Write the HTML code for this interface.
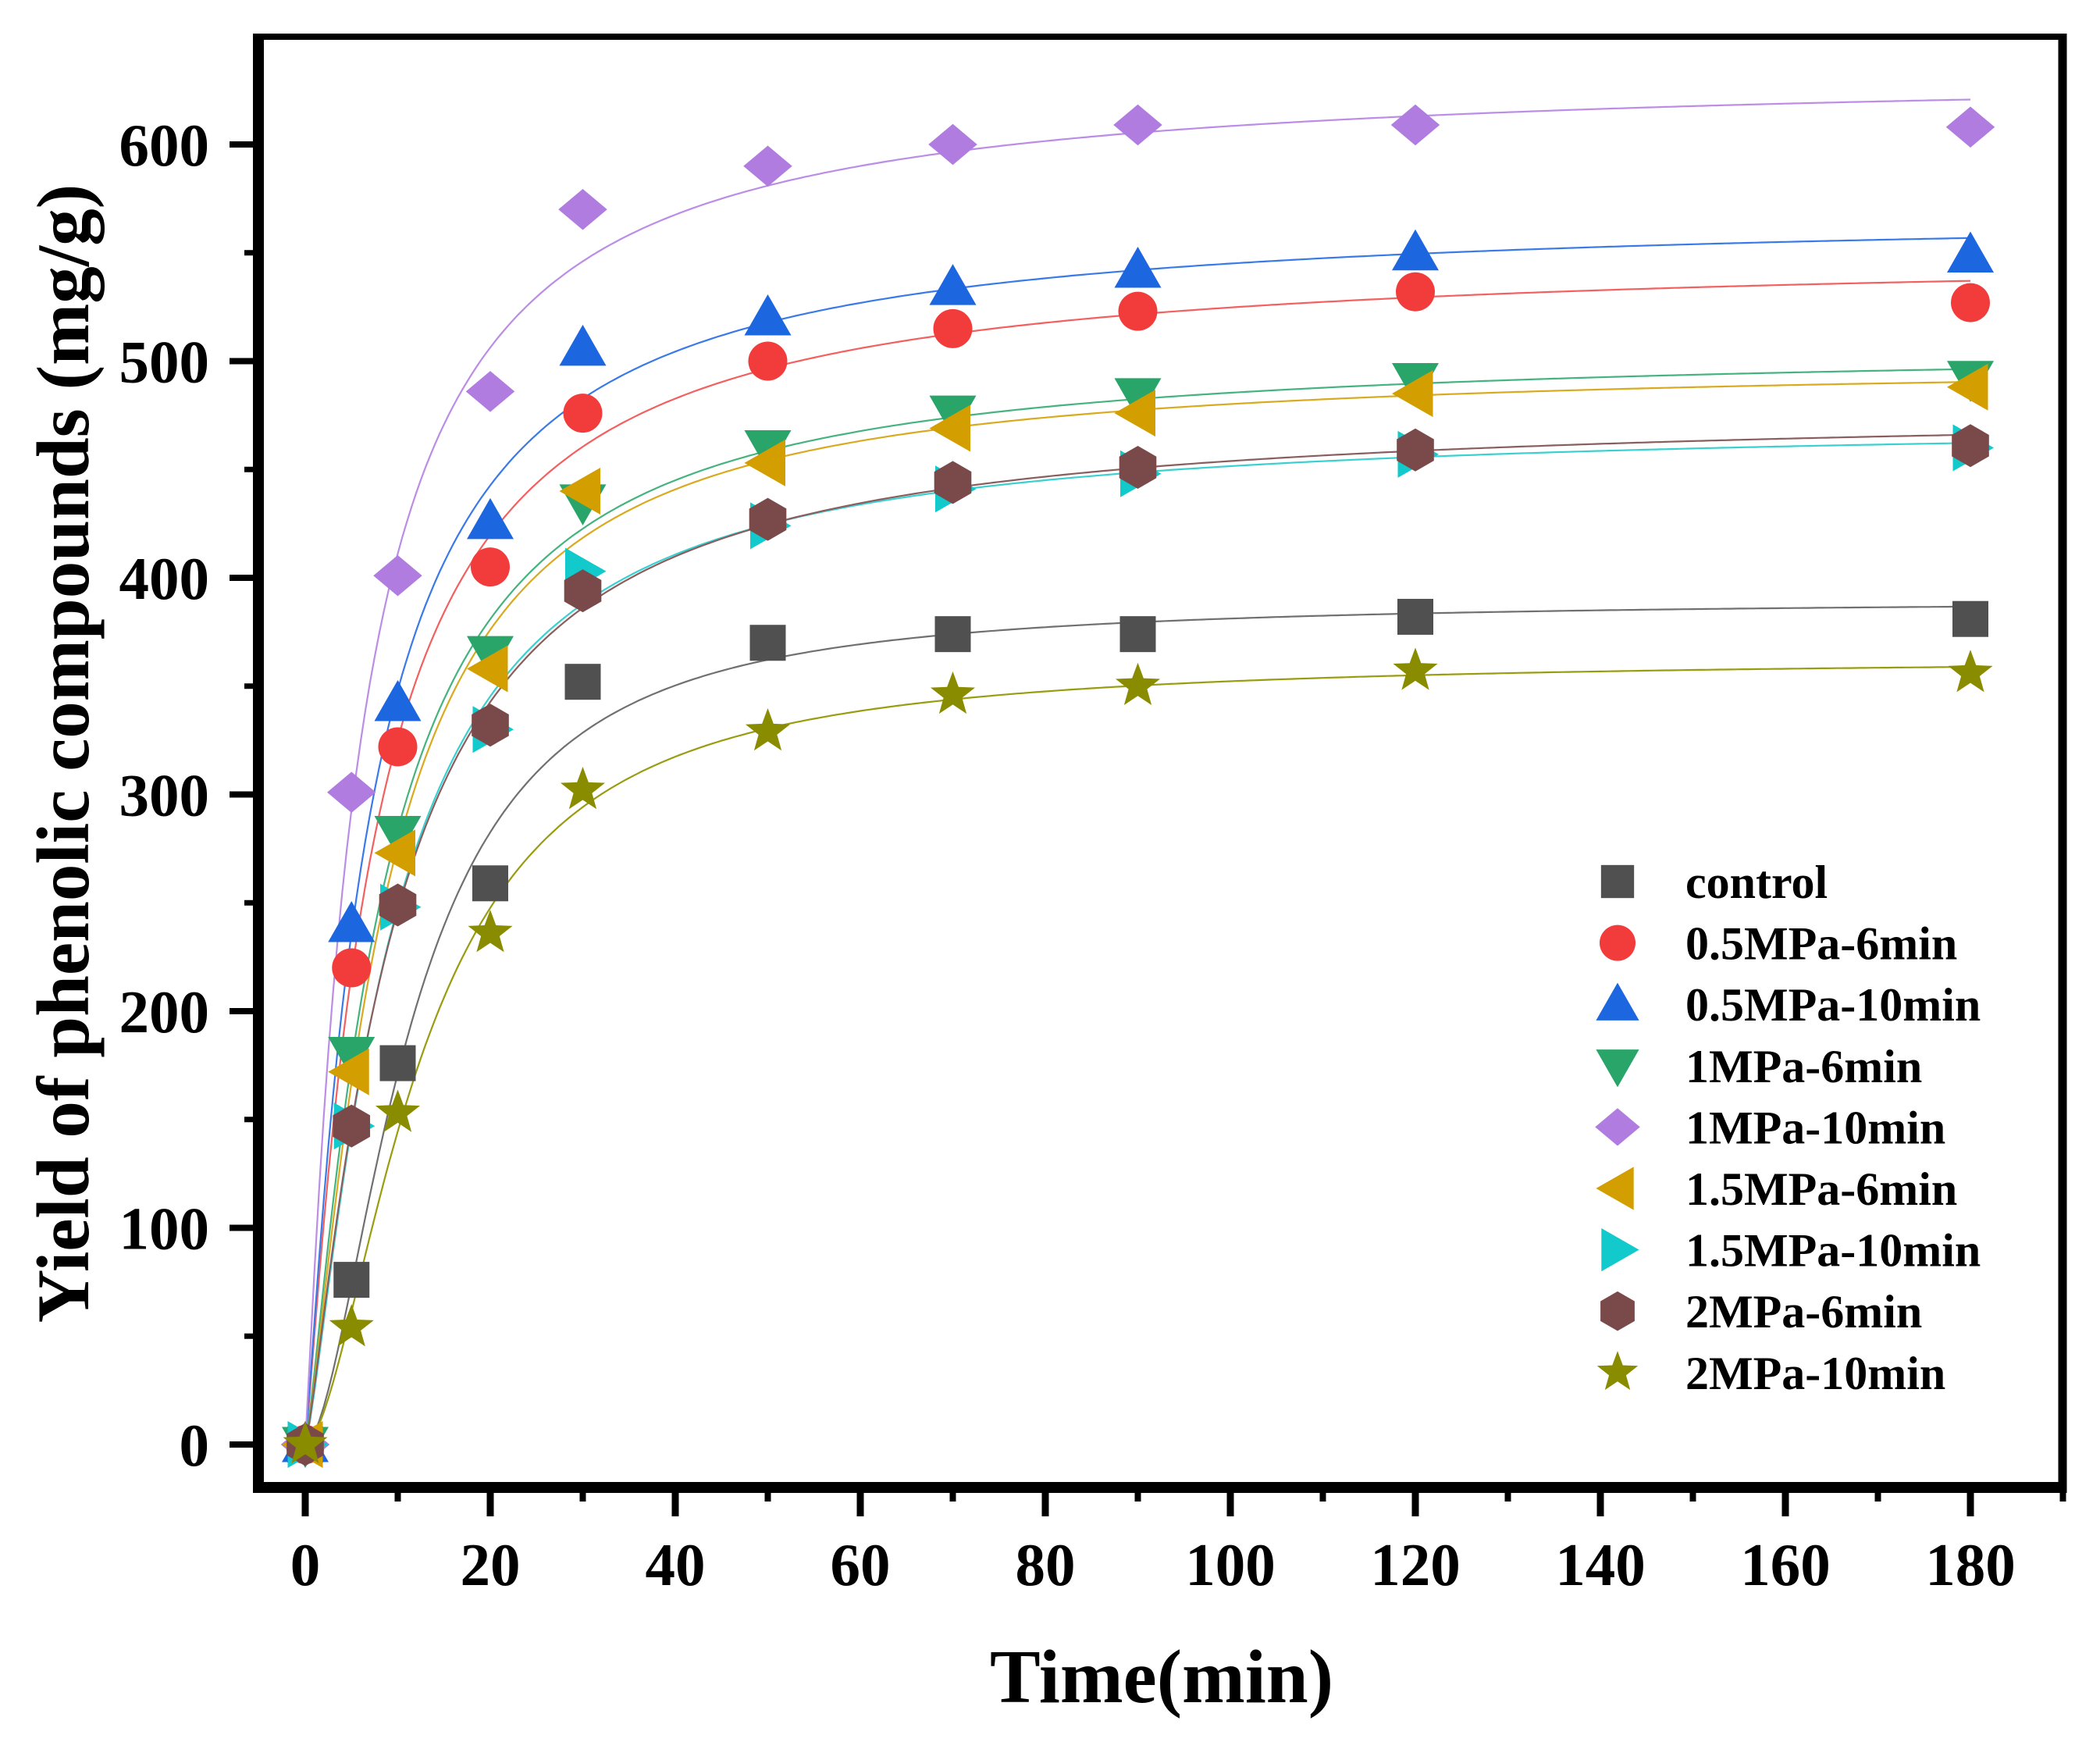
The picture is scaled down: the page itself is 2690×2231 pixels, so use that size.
<!DOCTYPE html>
<html><head><meta charset="utf-8"><style>
html,body{margin:0;padding:0;background:#fff;}
svg{display:block;}
text{font-family:"Liberation Serif",serif;font-weight:bold;fill:#000;}
</style></head><body>
<svg id="chart" width="2690" height="2231" viewBox="0 0 2690 2231" xmlns="http://www.w3.org/2000/svg">
<g id="frame">
<line x1="332" y1="47" x2="2642" y2="47" stroke="#000" stroke-width="8"/>
<line x1="2642" y1="43" x2="2642" y2="1912" stroke="#000" stroke-width="11"/>
<line x1="331" y1="43" x2="331" y2="1912" stroke="#000" stroke-width="14"/>
<line x1="324" y1="1905" x2="2647" y2="1905" stroke="#000" stroke-width="14"/>
</g>
<g id="axes"></g>
<g id="curves"></g>
<g id="marks"></g>
<g id="legend"></g>
<text x="1488" y="2180" font-size="97" text-anchor="middle">Time(min)</text>
<text x="0" y="0" font-size="95" text-anchor="middle" transform="translate(113,965) rotate(-90)">Yield of phenolic compounds (mg/g)</text>
</svg>
<script>
const times = [0, 5, 10, 20, 30, 50, 70, 90, 120, 180];
const seriesNames = ["control","0.5MPa-6min","0.5MPa-10min","1MPa-6min","1MPa-10min","1.5MPa-6min","1.5MPa-10min","2MPa-6min","2MPa-10min"];
const control   = [0, 76, 176, 259, 352, 370, 374, 374, 382, 381];
const p05m6     = [0, 220, 322, 405, 476, 500, 515, 523, 532, 527];
const p05m10    = [0, 240, 342, 426, 506, 520, 534, 542, 550, 549];
const p1m6      = [0, 180, 282, 365, 435, 460, 476, 484, 491, 492];
const p1m10     = [0, 301, 401, 486, 570, 590, 600, 609, 609, 608];
const p15m6     = [0, 172, 273, 358, 440, 453, 469, 476, 485, 488];
const p15m10    = [0, 147, 248, 330, 403, 424, 441, 448, 457, 460];
const p2m6      = [0, 147, 249, 332, 394, 427, 444, 451, 459, 461];
const p2m10     = [0, 54, 153, 236, 302, 329, 346, 350, 357, 356];
const xTicks = [0,20,40,60,80,100,120,140,160,180];
const yTicks = [0,100,200,300,400,500,600];

const allSeries = [control,p05m6,p05m10,p1m6,p1m10,p15m6,p15m10,p2m6,p2m10];
const colors = ["#505050","#f23b3b","#1c66e0","#2aa56a","#b07ce0","#d39e00","#12c9cb","#7a4a4a","#8a8c00"];
const lineColors = ["#707070","#f26060","#3a7ae8","#45b37f","#bb8de6","#d9aa20","#3ad0d0","#8a5e5e","#9a9c10"];
const shapes = ["square","circle","up","down","diamond","left","right","hex","star"];
const NS = "http://www.w3.org/2000/svg";
const X = t => 391 + t * 11.85;
const Y = v => 1850 - v * 2.775;
function mk(tag, attrs, parent){const e=document.createElementNS(NS,tag);for(const k in attrs)e.setAttribute(k,attrs[k]);parent.appendChild(e);return e;}

const axes = document.getElementById('axes');
xTicks.forEach(t=>{
  const l = mk('line',{x1:X(t),y1:1905,x2:X(t),y2:1942,stroke:'#000','stroke-width':9},axes);
  
  
  const tx = mk('text',{x:X(t),y:2030,'font-size':77,'text-anchor':'middle'},axes);
  tx.textContent = t;
  
  
  if (t+10<=190){
    const m = mk('line',{x1:X(t+10),y1:1905,x2:X(t+10),y2:1923,stroke:'#000','stroke-width':8},axes);
    
    
  }
});
yTicks.forEach(v=>{
  const l = mk('line',{x1:294,y1:Y(v),x2:332,y2:Y(v),stroke:'#000','stroke-width':8},axes);
  
  
  const tx = mk('text',{x:268,y:Y(v)+27,'font-size':77,'text-anchor':'end'},axes);
  tx.textContent = v;
  
  
  if (v<600){
    const m = mk('line',{x1:313,y1:Y(v+50),x2:332,y2:Y(v+50),stroke:'#000','stroke-width':7},axes);
    
    
  }
});

function shapeEl(shape, cx, cy, s, color, parent){
  const h = s/2;
  let e;
  if(shape==='square') e=mk('rect',{x:cx-h*0.92,y:cy-h*0.92,width:s*0.92,height:s*0.92},parent);
  else if(shape==='circle') e=mk('circle',{cx:cx,cy:cy,r:h},parent);
  else {
    let p;
    const H=h*1.2;
    if(shape==='up') p=[[cx,cy-H],[cx+H,cy+H*0.75],[cx-H,cy+H*0.75]];
    else if(shape==='down') p=[[cx,cy+H],[cx+H,cy-H*0.75],[cx-H,cy-H*0.75]];
    else if(shape==='left') p=[[cx-H,cy],[cx+H*0.75,cy-H],[cx+H*0.75,cy+H]];
    else if(shape==='right') p=[[cx+H,cy],[cx-H*0.75,cy-H],[cx-H*0.75,cy+H]];
    else if(shape==='diamond') p=[[cx,cy-h*1.05],[cx+h*1.25,cy],[cx,cy+h*1.05],[cx-h*1.25,cy]];
    else if(shape==='hex'){p=[];for(let i=0;i<6;i++){const a=Math.PI/6+i*Math.PI/3;p.push([cx+h*1.1*Math.cos(a),cy+h*1.1*Math.sin(a)]);}}
    else { p=[];for(let i=0;i<10;i++){const a=-Math.PI/2+i*Math.PI/5;const r=i%2?h*0.5:h*1.2;p.push([cx+r*Math.cos(a),cy+r*Math.sin(a)]);}}
    e=mk('polygon',{points:p.map(q=>q.join(',')).join(' ')},parent);
  }
  e.setAttribute('fill',color);
  return e;
}

function fit(ys){
  let best=null;
  for(let n=0.8;n<=2.6;n+=0.05){
    for(let K=1;K<=40;K+=0.25){
      let sff=0,sfy=0;
      const f=times.map(t=>t===0?0:Math.pow(t,n)/(Math.pow(K,n)+Math.pow(t,n)));
      f.forEach((fi,i)=>{sff+=fi*fi;sfy+=fi*ys[i];});
      const A=sfy/sff;let err=0;
      f.forEach((fi,i)=>{err+=(A*fi-ys[i])**2;});
      if(!best||err<best.err)best={A,n,K,err};
    }
  }
  return best;
}

const curves=document.getElementById('curves');
const marks=document.getElementById('marks');
allSeries.forEach((ys,si)=>{
  const p=fit(ys);
  let d='';
  for(let t=0;t<=180;t+=0.5){
    const v=t===0?0:p.A*Math.pow(t,p.n)/(Math.pow(p.K,p.n)+Math.pow(t,p.n));
    d+=(t===0?'M':'L')+X(t).toFixed(1)+','+Y(v).toFixed(1);
  }
  const path=mk('path',{d:d,fill:'none',stroke:lineColors[si],'stroke-width':2.2},curves);
  
  
  ys.forEach((v,i)=>{
    const e=shapeEl(shapes[si],X(times[i]),Y(v),50,colors[si],marks);
    
    
  });
});

const legend=document.getElementById('legend');
seriesNames.forEach((nm,i)=>{
  const cy=1129+i*78.6;
  const e=shapeEl(shapes[i],2072,cy,46,colors[i],legend);
  
  
  const tx=mk('text',{x:2159,y:cy+21,'font-size':60},legend);
  tx.textContent=nm;
  
  
});
</script>
</body></html>
